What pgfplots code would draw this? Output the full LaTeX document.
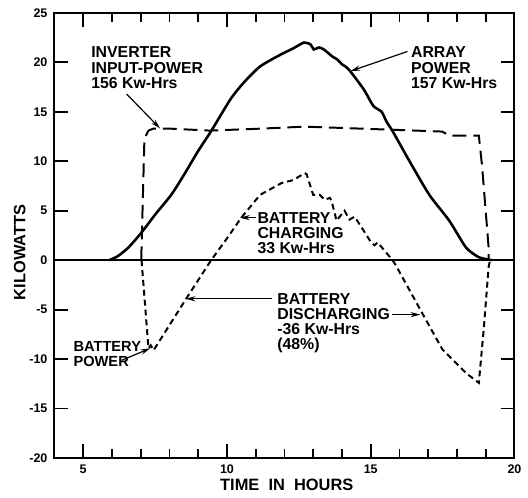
\documentclass[border=0pt]{standalone}
\usepackage{pgfplots}
\pgfplotsset{compat=1.18}
\usepackage{fontspec}
\setmainfont{Liberation Sans}
\usetikzlibrary{arrows.meta}
\begin{document}
\begin{tikzpicture}
\begin{axis}[
  scale only axis,
  width=232.5pt, height=225pt,
  xmin=4, xmax=20, ymin=-20, ymax=25,
  clip=false,
  axis line style={line width=1pt},
  xtick={5,10,15,20},
  xticklabels={5,10,15,20},
  minor xtick={4,6,7,8,9,11,12,13,14,16,17,18,19},
  ytick={-20,-15,-10,-5,0,5,10,15,20,25},
  yticklabels={-20,-15,-10,-5,0,5,10,15,20,25},
  major tick length=7pt,
  minor tick length=4.5pt,
  every tick/.style={line width=0.9pt, black},
  tick label style={font=\fontsize{6.3}{6.3}\selectfont\bfseries},
  xlabel={TIME\ \ IN\ \ HOURS},
  ylabel={KILOWATTS},
  label style={font=\fontsize{8.3}{8.3}\selectfont\bfseries},
  xlabel style={at={(rel axis cs:0.505,-0.06)}, anchor=center},
  ylabel style={at={(rel axis cs:-0.0753,0.462)}, anchor=center},
]
% invisible bounding box
\path (rel axis cs:-0.1183,-0.0822) rectangle (rel axis cs:1.0172,1.0289);
% zero line
\addplot[black, line width=0.8pt] coordinates {(4,0) (20,0)};
% array power
\addplot[black, line width=1.3pt, smooth, tension=0.4] coordinates {
(5.9,0) (6.2,0.4) (6.58,1.3) (7.03,2.8) (7.5,4.6) (8.06,6.6) (8.5,8.6)
(8.99,11.0) (9.44,13.0) (10.13,16.3) (10.6,18.0) (11.16,19.6) (11.88,20.8)
(12.3,21.4) (12.68,22.0) (12.91,21.8) (13.02,21.3) (13.2,21.5) (13.37,21.3)
(13.66,20.6) (13.83,20.3) (14.0,19.8) (14.23,19.3) (14.75,17.3) (15.09,15.6)
(15.38,15.0) (15.55,14.0) (15.77,13.0) (16.35,10.0) (17.04,6.6) (17.73,4.0)
(18.31,1.3) (18.76,0.3) (19.22,0)
};
% inverter input power
\addplot[black, line width=1pt, dash pattern=on 7pt off 3.5pt] coordinates {
(7.02,0) (7.03,1.3) (7.13,12.3) (7.27,13.1) (7.44,13.3) (8.0,13.3) (9.4,13.1)
(11.2,13.3) (12.7,13.5) (15.6,13.2) (17.49,13.0) (17.73,12.6) (18.76,12.6)
(18.87,9.6) (19.1,1.3) (19.1,0)
};
% battery power
\addplot[black, line width=1pt, dash pattern=on 3pt off 2pt] coordinates {
(7.03,0) (7.27,-8.9) (7.35,-8.6) (7.45,-9.1) (8.58,-3.9) (9.45,0) (10.0,2.2)
(10.5,4.3) (11.15,6.6) (11.9,7.8) (12.31,8.1) (12.7,8.8) (12.77,8.7)
(13.0,6.6) (13.23,6.6) (13.4,6.1) (13.58,6.3) (13.64,6.0) (13.81,4.0)
(14.09,5.0) (14.26,4.1) (14.44,4.4) (14.84,2.6) (15.01,1.8) (15.13,1.5)
(15.24,1.8) (15.53,0.8) (15.76,0) (15.87,-0.5) (16.8,-5.4) (17.49,-9.0)
(18.31,-11.4) (18.76,-12.4) (18.93,-7.0) (19.1,-0.7) (19.15,0)
};
% annotations
\tikzset{ann/.style={anchor=north west, inner sep=0pt, align=left,
  font=\fontsize{8}{7.7}\selectfont\bfseries},
  arr/.style={line width=0.6pt, -{Stealth[length=5pt,width=2.6pt]}}}
\node[ann] at (axis cs:5.27,21.6) {INVERTER\\INPUT-POWER\\156 Kw-Hrs};
\draw[arr] (axis cs:6.51,16.8) -- (axis cs:7.68,13.3);
\node[ann] at (axis cs:16.39,21.6) {ARRAY\\POWER\\157 Kw-Hrs};
\draw[arr] (axis cs:16.28,21.1) -- (axis cs:14.29,19.1);
\node[ann] at (axis cs:11.05,4.9) {BATTERY\\CHARGING\\33 Kw-Hrs};
\draw[arr] (axis cs:11.02,4.3) -- (axis cs:10.45,4.3);
\node[ann] at (axis cs:11.74,-3.3) {BATTERY\\DISCHARGING\\-36 Kw-Hrs\\(48\%)};
\draw[arr] (axis cs:11.57,-3.9) -- (axis cs:8.56,-3.9);
\draw[arr] (axis cs:15.75,-5.5) -- (axis cs:16.73,-5.5);
\node[ann, font=\fontsize{7.4}{7.2}\selectfont\bfseries] at (axis cs:4.65,-8.2) {BATTERY\\POWER};
\draw[arr] (axis cs:6.35,-10.1) -- (axis cs:7.34,-8.9);
\end{axis}
\end{tikzpicture}
\end{document}
